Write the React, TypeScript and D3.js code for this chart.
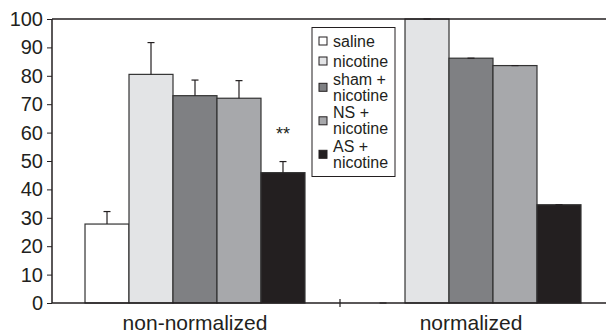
import React, { useRef, useEffect } from 'react';
import * as d3 from 'd3';

const groups = ['non-normalized', 'normalized'];
const series = ['saline', 'nicotine', 'sham + nicotine', 'NS + nicotine', 'AS + nicotine'];
const legendLines = [['saline'], ['nicotine'], ['sham +', 'nicotine'], ['NS +', 'nicotine'], ['AS +', 'nicotine']];
const nonNormalized = [27.8, 80.5, 73.0, 72.1, 45.9];
const nonNormalizedErr = [4.4, 11.2, 5.5, 6.2, 3.9];
const normalized = [0, 100, 86.2, 83.6, 34.6];
const normalizedErr = [0, 0, 0, 0, 0];
const yTicks = [0, 10, 20, 30, 40, 50, 60, 70, 80, 90, 100];
const colors = ['#ffffff', '#e3e4e6', '#7f8083', '#a7a8ab', '#231f20'];

const font = '"Liberation Sans", Arial, sans-serif';

function Chart() {
  const yAxisRef = useRef<SVGGElement>(null);
  const width = 606;
  const height = 333;
  const left = 52;
  const top = 19;
  const bottom = 303;
  const plotRight = 628;

  const x = d3.scaleBand<string>()
    .domain(groups)
    .range([left, 614])
    .paddingInner(0.203)
    .paddingOuter(0.1196);
  const xs = d3.scaleBand<string>()
    .domain(series)
    .range([0, x.bandwidth()]);
  const y = d3.scaleLinear().domain([0, 100]).range([bottom, top]);

  const data = [
    { group: groups[0], values: nonNormalized, errs: nonNormalizedErr },
    { group: groups[1], values: normalized, errs: normalizedErr },
  ];

  useEffect(() => {
    const g = d3.select(yAxisRef.current);
    g.call(d3.axisLeft(y).tickValues(yTicks).tickSize(5).tickPadding(4).tickFormat(d3.format('d')) as any);
    g.select('.domain').remove();
    g.selectAll('.tick line').attr('stroke', '#231f20');
    g.selectAll('.tick text')
      .attr('fill', '#231f20')
      .style('font-family', font)
      .style('font-size', '20px');
  }, []);

  const capW = 7;

  return (
    <svg width={width} height={height} style={{ position: 'absolute', left: 0, top: 0, display: 'block' }}>
      <rect width={width} height={height} fill="#fff" />
      {data.map(d => (
        <g key={d.group} transform={`translate(${x(d.group)},0)`}>
          {d.values.map((v, i) => {
            const bx = xs(series[i])!;
            const cx = bx + xs.bandwidth() / 2;
            return (
              <g key={series[i]}>
                <rect x={bx} y={y(v)} width={xs.bandwidth()} height={y(0) - y(v)}
                  fill={colors[i]} stroke="#333" strokeWidth={1.2} />
                <line x1={cx} x2={cx} y1={y(v)} y2={y(v + d.errs[i])} stroke="#231f20" strokeWidth={1.2} />
                <line x1={cx - capW / 2} x2={cx + capW / 2} y1={y(v + d.errs[i])} y2={y(v + d.errs[i])}
                  stroke="#231f20" strokeWidth={1.2} />
              </g>
            );
          })}
          <text x={x.bandwidth() / 2} y={330} textAnchor="middle" fontFamily={font} fontSize={21} fill="#231f20">
            {d.group}
          </text>
        </g>
      ))}
      <text x={x(groups[0])! + xs(series[4])! + xs.bandwidth() / 2}
        y={y(nonNormalized[4] + nonNormalizedErr[4]) - 22}
        textAnchor="middle" fontFamily={font} fontSize={18} fill="#231f20">**</text>
      {/* frame */}
      <line x1={left} x2={left} y1={top} y2={bottom} stroke="#231f20" strokeWidth={1.5} />
      <line x1={left} x2={plotRight} y1={top} y2={top} stroke="#231f20" strokeWidth={1.5} />
      <line x1={left} x2={plotRight} y1={bottom} y2={bottom} stroke="#231f20" strokeWidth={1.5} />
      <line x1={(left + plotRight) / 2} x2={(left + plotRight) / 2} y1={bottom - 4} y2={bottom + 4} stroke="#231f20" strokeWidth={1.2} />
      <g ref={yAxisRef} transform={`translate(${left},0)`} />
      {/* legend */}
      <g transform="translate(312,27.5)">
        <rect width={83} height={149} fill="#fff" stroke="#231f20" strokeWidth={1} />
        {(() => {
          let ty = 13.5;
          return legendLines.map((lines, i) => {
            const startY = ty;
            const midY = startY + (lines.length - 1) * 8;
            ty += lines.length === 1 ? 20 : 33.5;
            if (i === 1) ty = 51.8;
            return (
              <g key={series[i]}>
                <rect x={7} y={midY - 4} width={8} height={8} fill={colors[i]} stroke="#231f20" strokeWidth={1} />
                {lines.map((t, j) => (
                  <text key={j} x={21} y={startY + j * 16} dy="0.35em" fontFamily={font} fontSize={16} fill="#231f20">{t}</text>
                ))}
              </g>
            );
          });
        })()}
      </g>
    </svg>
  );
}

export default function App() {
  return <Chart />;
}
